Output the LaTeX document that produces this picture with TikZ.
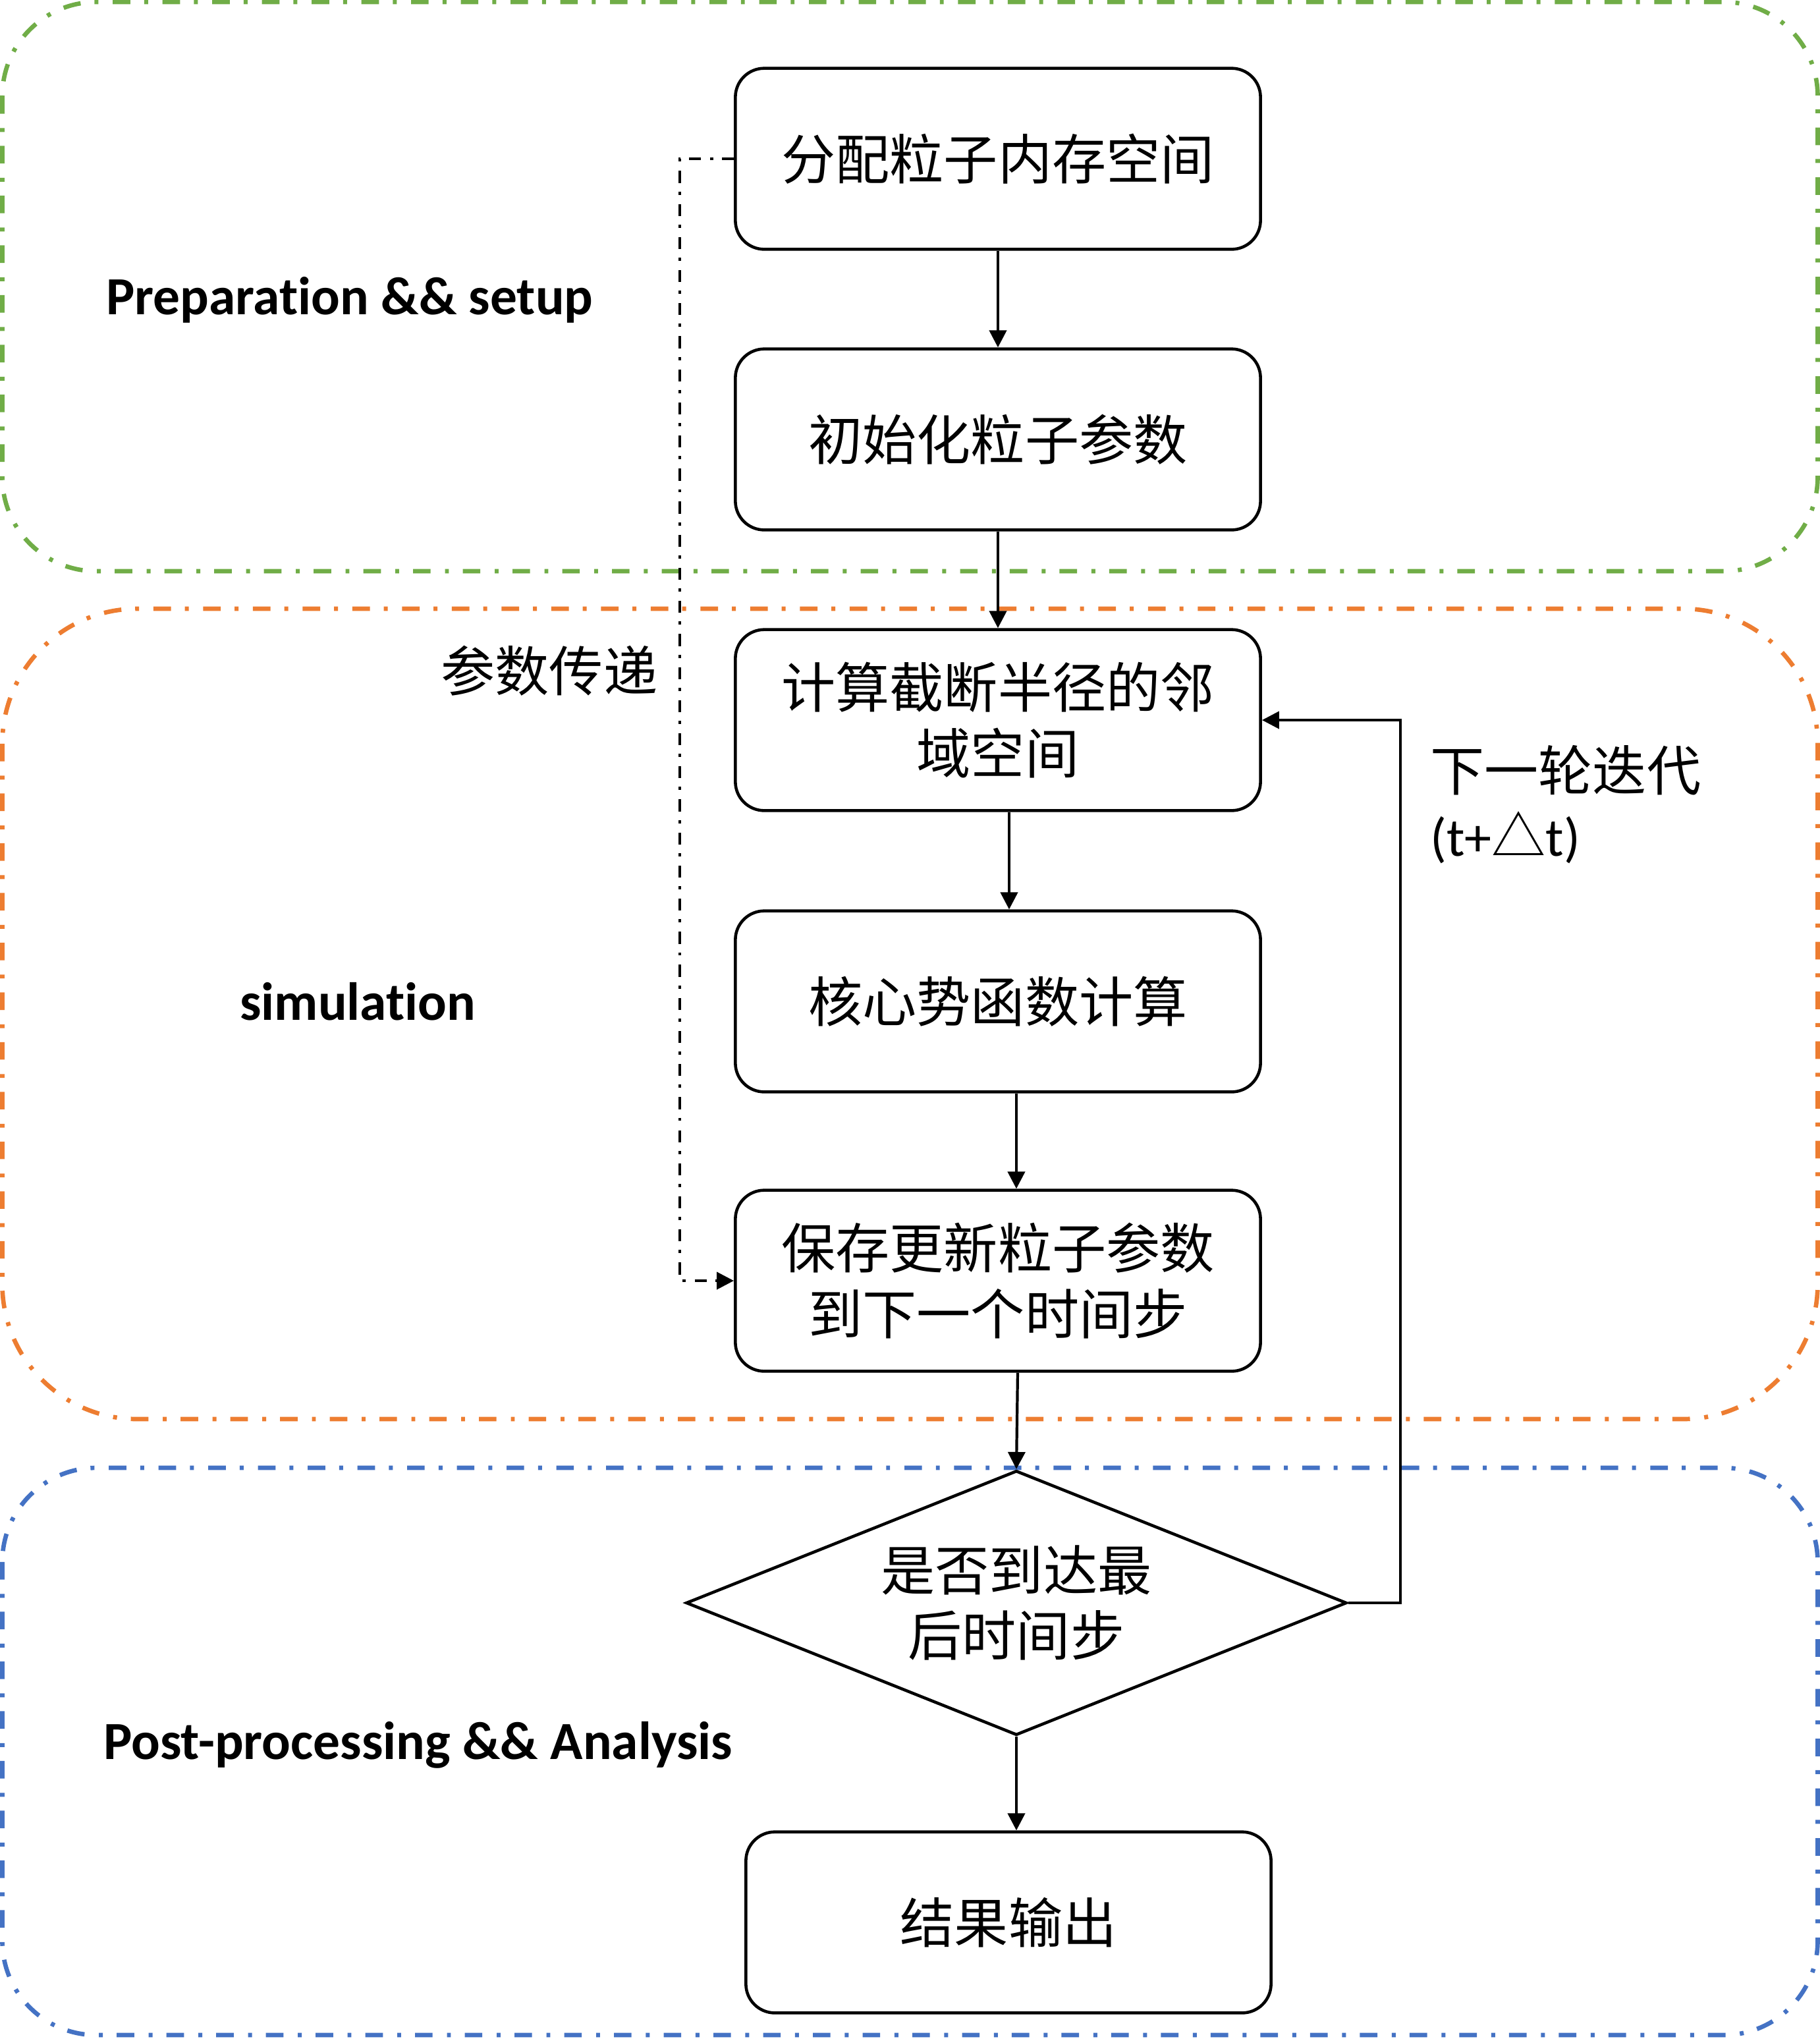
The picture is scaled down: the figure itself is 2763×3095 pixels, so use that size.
\documentclass[tikz,border=0pt]{standalone}
\usepackage{fontspec}
\setmainfont{Carlito}[Ligatures=NoCommon]
\newfontfamily\cjk{Noto Sans CJK SC}
\usetikzlibrary{shapes.geometric,arrows.meta}
\definecolor{prepgreen}{HTML}{70AD47}
\definecolor{simorange}{HTML}{ED7D31}
\definecolor{postblue}{HTML}{4472C4}

\begin{document}
\begin{tikzpicture}[x=0.005cm,y=-0.005cm,
  stage/.style={line width=0.95pt,dash pattern=on 3.8pt off 3.1pt on 0.85pt off 3pt},
  proc/.style={draw,line width=0.65pt,rounded corners=0.22cm,minimum width=3.99cm,
    minimum height=1.375cm,align=center,font=\cjk\fontsize{11.7}{14.2}\selectfont},
  decide/.style={draw,diamond,aspect=2.5,line width=0.65pt,minimum width=5.02cm,minimum height=2.01cm,
    inner sep=0pt,align=center,font=\cjk\fontsize{11.7}{14.2}\selectfont},
  arr/.style={-{Triangle[length=3.7pt,width=3.7pt]},line width=0.6pt},
  pass/.style={arr,dash pattern=on 2.6pt off 1.85pt on 0.7pt off 2pt},
  stagetext/.style={inner sep=0pt,font=\bfseries\fontsize{11.6}{14}\selectfont},
  note/.style={inner sep=0pt,align=left,font=\cjk\fontsize{11.7}{14.2}\selectfont}]
  \useasboundingbox (0,0) rectangle (2763,3095);

  \draw[stage,prepgreen,rounded corners=0.715cm] (3.5,3) rectangle (2759.5,867);
  \draw[stage,simorange,rounded corners=1.025cm] (3.5,924) rectangle (2759.5,2154);
  \draw[stage,postblue,rounded corners=0.715cm] (3.5,2228) rectangle (2759.5,3089);

  \node[proc] (b1) at (1515,241) {分配粒子内存空间};
  \node[proc] (b2) at (1515,667) {初始化粒子参数};
  \node[proc] (b3) at (1515,1093) {计算截断半径的邻\\域空间};
  \node[proc] (b4) at (1515,1520) {核心势函数计算};
  \node[proc] (b5) at (1515,1944) {保存更新粒子参数\\到下一个时间步};
  \node[decide] (d) at (1543,2433) {是否到达最\\后时间步};
  \node[proc] (b6) at (1531,2918) {结果输出};

  \draw[arr] (b1) -- (b2);
  \draw[arr] (b2) -- (b3);
  \draw[arr] ([xshift=0.085cm]b3.south) -- ([xshift=0.085cm]b4.north);
  \draw[arr] ([xshift=0.14cm]b4.south) -- ([xshift=0.14cm]b5.north);
  \draw[arr] ([xshift=0.15cm]b5.south) -- (d.north);
  \draw[arr] (d.south) -- (d.south |- b6.north);

  \coordinate (loop) at (2126,1093);
  \draw[arr] (d.east) -| (loop) -- (b3.east);
  \coordinate (hand) at (1032,241);
  \draw[pass] (b1.west) -- (hand) |- (b5.west);

  \node[stagetext,anchor=west] (prep) at (160,455) {Preparation \&\& setup};
  \node[stagetext,anchor=west] (sim) at (363,1520) {simulation};
  \node[stagetext,anchor=west] (post) at (156,2649) {Post-processing \&\& Analysis};

  \node[note] (pass) at (834,1018) {参数传递};
  \node[note,anchor=west] (iter) at (2170,1221) {下一轮迭代\\{\normalfont(t+}△{\normalfont t)}};
\end{tikzpicture}
\end{document}
